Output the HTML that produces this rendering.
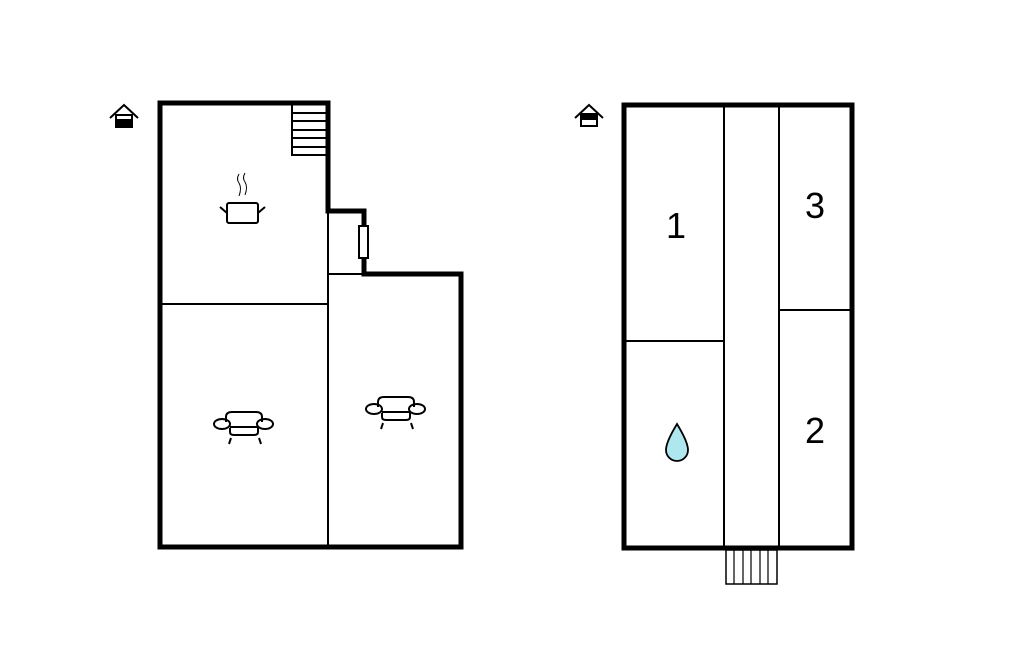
<!DOCTYPE html>
<html><head><meta charset="utf-8"><style>html,body{margin:0;padding:0;background:#fff}svg{display:block}</style></head><body>
<svg width="1024" height="652" viewBox="0 0 1024 652" xmlns="http://www.w3.org/2000/svg">
<g fill="none" stroke="#000">
<!-- house icons -->
<g stroke-width="2">
<polyline points="110,118 124,105 138,118"/>
<rect x="116" y="115" width="16" height="12" fill="#fff"/>
<rect x="116" y="120" width="16" height="7" fill="#000"/>
<polyline points="575,118 589,105 603,118"/>
<rect x="581" y="114" width="16" height="12" fill="#fff"/>
<rect x="581" y="114" width="16" height="5" fill="#000"/>
</g>
<!-- left plan -->
<polygon points="160,103 328,103 328,211 364,211 364,274 461,274 461,547 160,547" stroke-width="5"/>
<g stroke-width="2">
<line x1="160" y1="304" x2="328" y2="304"/>
<line x1="328" y1="211" x2="328" y2="547"/>
<line x1="328" y1="274" x2="364" y2="274"/>
<rect x="292" y="104" width="35" height="51"/>
<line x1="292" y1="113" x2="327" y2="113"/><line x1="292" y1="121" x2="327" y2="121"/>
<line x1="292" y1="130" x2="327" y2="130"/><line x1="292" y1="138" x2="327" y2="138"/>
<line x1="292" y1="147" x2="327" y2="147"/>
<rect x="359" y="226" width="9" height="32" fill="#fff"/>
<!-- pot -->
<rect x="227" y="203" width="31" height="20" rx="2"/>
<line x1="220" y1="207" x2="227" y2="213"/><line x1="265" y1="207" x2="258" y2="213"/>
<path d="M239,174 q-3,5 0,9 q3,5 0,13" stroke-width="1"/>
<path d="M245,173 q-3,5 0,9 q3,5 0,13" stroke-width="1"/>
<!-- armchairs -->
<g id="ch">
<path d="M226,422 v-5 q0,-5 6,-5 h24 q6,0 6,5 v5"/>
<ellipse cx="222" cy="424" rx="8" ry="5"/><ellipse cx="265" cy="424" rx="8" ry="5"/>
<path d="M230,428 v4 q0,3 4,3 h20 q4,0 4,-3 v-4"/>
<line x1="230" y1="427" x2="258" y2="427"/>
<line x1="231" y1="438" x2="229" y2="444"/><line x1="259" y1="438" x2="261" y2="444"/>
</g>
<use href="#ch" transform="translate(152,-15)"/>
</g>
<!-- right plan -->
<rect x="624" y="105" width="228" height="443" stroke-width="5"/>
<g stroke-width="2">
<line x1="724" y1="105" x2="724" y2="548"/>
<line x1="779" y1="105" x2="779" y2="548"/>
<line x1="624" y1="341" x2="724" y2="341"/>
<line x1="779" y1="310" x2="852" y2="310"/>
<rect x="726" y="550" width="51" height="34" stroke-width="1.5"/>
<g stroke-width="1.2">
<line x1="734" y1="550" x2="734" y2="584"/><line x1="743" y1="550" x2="743" y2="584"/>
<line x1="751" y1="550" x2="751" y2="584"/><line x1="760" y1="550" x2="760" y2="584"/>
<line x1="768" y1="550" x2="768" y2="584"/>
</g>
<path d="M677,424 q-11,18 -11,26 a11,11 0 0 0 22,0 q0,-8 -11,-26z" fill="#aee8ee" stroke-width="1.8"/>
</g>
</g>
<g font-family="Liberation Sans, sans-serif" font-size="36" text-anchor="middle" fill="#000">
<text x="676" y="238">1</text>
<text x="815" y="218">3</text>
<text x="815" y="443">2</text>
</g>
</svg>
</body></html>
